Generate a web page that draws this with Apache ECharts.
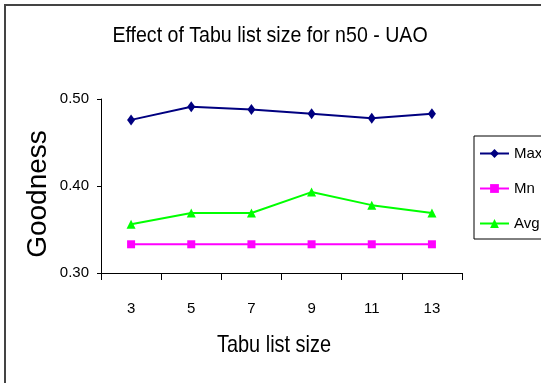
<!DOCTYPE html>
<html><head><meta charset="utf-8">
<script src="https://cdn.jsdelivr.net/npm/echarts@6/dist/echarts.min.js"></script>
<style>html,body{margin:0;padding:0;background:#fff}#c{width:541px;height:383px}</style>
</head><body><div id="c"></div>
<script>
var categories = ['3','5','7','9','11','13'];
var maxVals = [0.476, 0.491, 0.488, 0.483, 0.478, 0.483];
var minVals = [0.333, 0.333, 0.333, 0.333, 0.333, 0.333];
var avgVals = [0.356, 0.369, 0.369, 0.393, 0.378, 0.369];
var titleText = 'Effect of Tabu list size for n50 - UAO';
var xName = 'Tabu list size';
var yName = 'Goodness';

var F = 'Liberation Sans, Arial, sans-serif';
var chart = echarts.init(document.getElementById('c'));
chart.setOption({
  animation: false,
  backgroundColor: '#fff',
  graphic: [
    {type:'rect', shape:{x:5, y:5, width:600, height:400}, style:{fill:'none', stroke:'#444', lineWidth:2}, z:-1},
    {type:'text', x: 270, y: 36, scaleX: 0.89, style:{text:titleText, font:'22px ' + F, fill:'#000', align:'center', verticalAlign:'middle'}},
    {type:'text', x: 274, y: 345, scaleX: 0.83, style:{text:xName, font:'24px ' + F, fill:'#000', align:'center', verticalAlign:'middle'}},
    {type:'text', x: 38, y: 194, rotation: Math.PI/2, style:{text:yName, font:'28px ' + F, fill:'#000', align:'center', verticalAlign:'middle'}}
  ],
  grid: {left: 101, right: 79, top: 99, bottom: 110, containLabel: false},
  legend: {
    orient: 'vertical', left: 474, top: 136,
    itemWidth: 29, itemHeight: 11, itemGap: 20,
    padding: [10, 30, 8, 5],
    borderColor: '#000', borderWidth: 1,
    textStyle: {fontFamily: F, fontSize: 15, color: '#000'},
    data: ['Max','Mn','Avg']
  },
  xAxis: {
    type: 'category', data: categories, boundaryGap: true,
    axisLine: {lineStyle:{color:'#000', width:1}},
    axisTick: {show:true, inside:false, length:7, alignWithLabel:false, lineStyle:{color:'#000'}},
    axisLabel: {color:'#000', fontFamily: F, fontSize: 15, margin: 28}
  },
  yAxis: {
    type: 'value', min: 0.3, max: 0.5, interval: 0.1,
    splitLine: {show:false},
    axisLine: {show:true, lineStyle:{color:'#000', width:1}},
    axisTick: {show:true, inside:false, length:4, lineStyle:{color:'#000'}},
    axisLabel: {color:'#000', fontFamily: F, fontSize: 15, margin: 12, formatter: function(v){return v.toFixed(2);}}
  },
  series: [
    {name:'Max', type:'line', data:maxVals, symbol:'diamond', symbolSize:[8,11], color:'#000080', lineStyle:{width:2, color:'#000080'}, itemStyle:{color:'#000080'}},
    {name:'Mn', type:'line', data:minVals, symbol:'rect', symbolSize:8, color:'#ff00ff', lineStyle:{width:2, color:'#ff00ff'}, itemStyle:{color:'#ff00ff'}},
    {name:'Avg', type:'line', data:avgVals, symbol:'triangle', symbolSize:9, color:'#00ff00', lineStyle:{width:2, color:'#00ff00'}, itemStyle:{color:'#00ff00'}}
  ]
});
</script></body></html>
